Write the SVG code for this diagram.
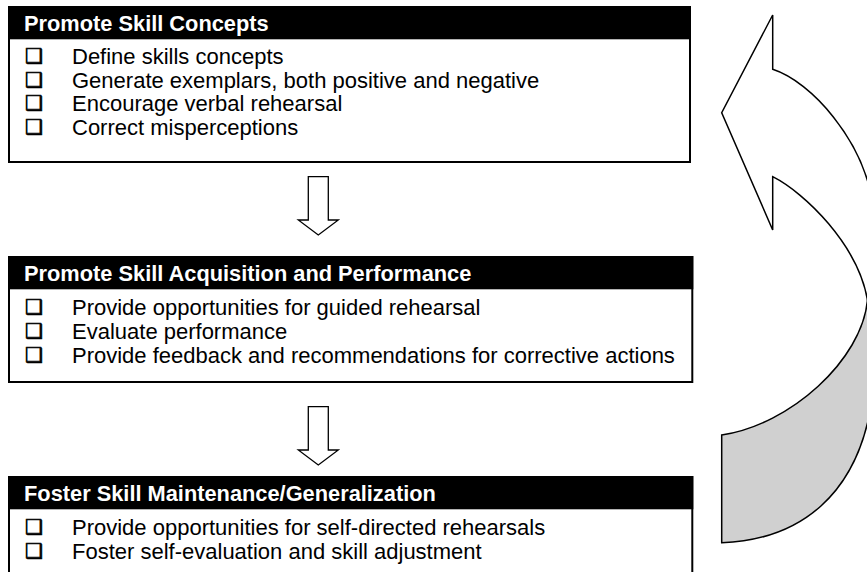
<svg xmlns="http://www.w3.org/2000/svg" width="867" height="572" viewBox="0 0 867 572">
<style>
.box{fill:#fff;stroke:#000;stroke-width:2}
.hdr{fill:#000}
.ht{font-family:"Liberation Sans",Arial,sans-serif;font-weight:bold;font-size:21.8px;fill:#fff}
.it{font-family:"Liberation Sans",Arial,sans-serif;font-size:22px;fill:#000}
.cb{font-family:"DejaVu Sans",sans-serif;font-size:20px;fill:#000;stroke:#000;stroke-width:0.7}
.dn{fill:#fff;stroke:#000;stroke-width:1.3}
.cw{fill:#fff;stroke:#000;stroke-width:1.5;stroke-linejoin:miter}
.cg{fill:#d0d0d0;stroke:#000;stroke-width:1.5}
</style>
<g id="node1">
<rect class="box" x="9" y="7" width="681" height="155"/>
<rect class="hdr" x="8" y="6" width="683" height="33.3"/>
<text class="ht" x="24" y="30.7">Promote Skill Concepts</text>
<text class="cb" x="25" y="63">❑</text><text class="it" x="72" y="64">Define skills concepts</text>
<text class="cb" x="25" y="86.7">❑</text><text class="it" x="72" y="87.7">Generate exemplars, both positive and negative</text>
<text class="cb" x="25" y="110.4">❑</text><text class="it" x="72" y="111.4">Encourage verbal rehearsal</text>
<text class="cb" x="25" y="134.1">❑</text><text class="it" x="72" y="135.1">Correct misperceptions</text>
</g>
<g id="node2">
<rect class="box" x="9" y="257" width="683.3" height="125"/>
<rect class="hdr" x="8" y="256" width="685.3" height="33.3"/>
<text class="ht" x="24" y="280.7">Promote Skill Acquisition and Performance</text>
<text class="cb" x="25" y="314">❑</text><text class="it" x="72" y="315">Provide opportunities for guided rehearsal</text>
<text class="cb" x="25" y="338">❑</text><text class="it" x="72" y="339">Evaluate performance</text>
<text class="cb" x="25" y="362">❑</text><text class="it" x="72" y="363">Provide feedback and recommendations for corrective actions</text>
</g>
<g id="node3">
<rect class="box" x="9" y="477" width="683.3" height="120"/>
<rect class="hdr" x="8" y="476" width="685.3" height="33.3"/>
<text class="ht" x="24" y="500.7">Foster Skill Maintenance/Generalization</text>
<text class="cb" x="25" y="534">❑</text><text class="it" x="72" y="535">Provide opportunities for self-directed rehearsals</text>
<text class="cb" x="25" y="558">❑</text><text class="it" x="72" y="559">Foster self-evaluation and skill adjustment</text>
</g>
<g id="connectors">
<polygon class="dn" points="308.3,176.7 328.3,176.7 328.3,220 338.3,220 318.3,235 298.3,220 308.3,220"/>
<polygon class="dn" points="308.3,406.7 328.3,406.7 328.3,450 338.3,450 318.3,465 298.3,450 308.3,450"/>
<path class="cg" d="M867.5,300 C862,360 790,425 721.7,435 L721.7,542.7 C800,540 858,495 872,400 L885,400 L885,300 Z"/>
<path class="cw" d="M772.7,15 L721.7,112.7 L772.7,230 L772.7,176.7 C805,193 858,245 867.5,300 L885,300 L885,200 L872,200 C862,140 812,82 772.7,69.3 Z"/>
</g>
</svg>
